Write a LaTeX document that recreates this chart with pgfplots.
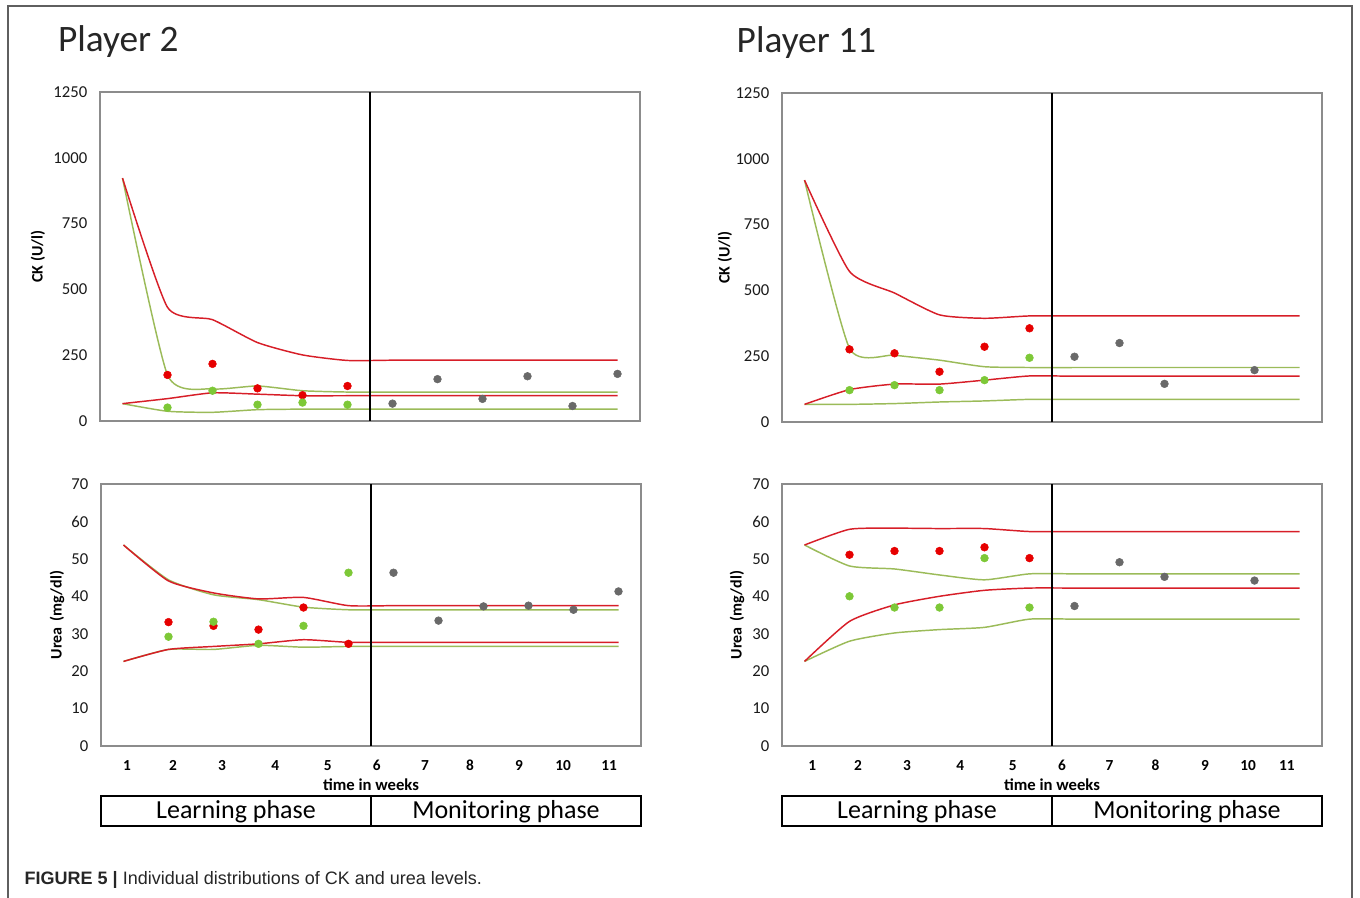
\documentclass[border=0pt]{standalone}
\usepackage{fontspec}
\setmainfont{Carlito}
\newfontfamily\capfont{Liberation Sans}
\usepackage{pgfplots}
\usepackage{pgfplotstable}
\pgfplotsset{compat=1.18}

\definecolor{redline}{RGB}{215,30,40}
\definecolor{greenline}{RGB}{155,187,89}
\definecolor{reddot}{RGB}{230,0,0}
\definecolor{greendot}{RGB}{125,200,55}
\definecolor{graydot}{RGB}{105,105,105}
\definecolor{framegray}{RGB}{140,140,140}
\definecolor{outergray}{RGB}{95,95,95}

% ---------- Player 2, CK ----------
\pgfplotstableread{
x ru gu rl gl
0 923 923 66 66
1 432 175 85 37
2 385 122 107 33
3 298 133 102 43
4 251 115 96 45
5 230 110 96 45
6 231 110 96 45
7 231 110 96 45
8 231 110 96 45
9 231 110 96 45
10 231 110 96 45
11 231 110 96 45
}\ckAlines
\pgfplotstableread{
x r g
1 175 51
2 217 115
3 124 62
4 98 70
5 133 62
}\ckApts
\pgfplotstableread{
x v
6 66
7 159
8 84
9 170
10 57
11 179
}\ckAgray

% ---------- Player 2, Urea ----------
\pgfplotstableread{
x ru gu rl gl
0 53.7 53.7 22.6 22.6
1 44.1 44.4 25.8 25.8
2 40.9 40.4 26.6 25.8
3 39.3 39.1 27.3 26.9
4 39.7 37.1 28.4 26.4
5 37.5 36.4 27.7 26.6
6 37.5 36.4 27.7 26.6
7 37.5 36.4 27.7 26.6
8 37.5 36.4 27.7 26.6
9 37.5 36.4 27.7 26.6
10 37.5 36.4 27.7 26.6
11 37.5 36.4 27.7 26.6
}\urAlines
\pgfplotstableread{
x r g
1 33.1 29.2
2 32.1 33.2
3 31.1 27.3
4 37.0 32.1
5 27.3 46.3
}\urApts
\pgfplotstableread{
x v
6 46.3
7 33.5
8 37.3
9 37.5
10 36.4
11 41.3
}\urAgray

% ---------- Player 11, CK ----------
\pgfplotstableread{
x ru gu rl gl
0 919 919 67 67
1 572 280 123 67
2 490 254 144 70
3 407 235 144 76
4 394 210 159 80
5 403 207 175 86
6 403 207 174 86
7 403 207 174 86
8 403 207 174 86
9 403 207 174 86
10 403 207 174 86
11 403 207 174 86
}\ckBlines
\pgfplotstableread{
x r g
1 276 121
2 261 140
3 191 121
4 286 159
5 356 244
}\ckBpts
\pgfplotstableread{
x v
6 248
7 300
8 145
10 197
}\ckBgray

% ---------- Player 11, Urea ----------
\pgfplotstableread{
x ru gu rl gl
0 53.7 53.7 22.6 22.6
1 57.9 48.1 33.3 28.0
2 58.2 47.3 37.7 30.2
3 58.1 45.7 40.0 31.1
4 58.1 44.4 41.6 31.7
5 57.3 46.0 42.2 33.9
6 57.3 46.0 42.2 33.9
7 57.3 46.0 42.2 33.9
8 57.3 46.0 42.2 33.9
9 57.3 46.0 42.2 33.9
10 57.3 46.0 42.2 33.9
11 57.3 46.0 42.2 33.9
}\urBlines
\pgfplotstableread{
x r g
1 51.1 40.0
2 52.1 37.0
3 52.1 37.0
4 53.1 50.2
5 50.2 37.0
}\urBpts
\pgfplotstableread{
x v
6 37.4
7 49.1
8 45.2
10 44.2
}\urBgray

\pgfplotsset{
 panel/.style={
   scale only axis, width=405pt,
   xmin=-0.5, xmax=11.5,
   axis line style={framegray, line width=0.8pt},
   major tick length=0pt,
   clip=false,
   yticklabel style={font=\fontsize{12.5}{14}\selectfont, xshift=-6pt, text=black!90},
   /pgf/number format/assume math mode=true,
   /pgf/number format/1000 sep={},
   ylabel style={font=\bfseries\fontsize{12}{14}\selectfont, at={(axis description cs:0,0.5)}, anchor=center},
 },
 ck/.style={panel, height=246.75pt, ymin=0, ymax=1250, ytick={0,250,500,750,1000,1250}, xtick=\empty, ylabel={CK (U/l)}},
 urea/.style={panel, height=196.5pt, ymin=0, ymax=70, ytick={0,10,20,30,40,50,60,70},
   xlabel={time in weeks},
   xlabel style={font=\bfseries\fontsize{12.5}{14}\selectfont, at={(axis description cs:0.5,0)}, anchor=center, yshift=-29pt},
   xticklabels={1,2,3,4,5,6,7,8,9,10,11},
   xticklabel style={font=\bfseries\fontsize{11.5}{13}\selectfont, anchor=base, yshift=-18.4pt},
   ylabel={Urea\,\ (mg/dl)}},
 rline/.style={redline, line width=1.1pt, smooth, tension=0.35, no markers},
 gline/.style={greenline, line width=1.1pt, smooth, tension=0.35, no markers},
 rdot/.style={only marks, mark=*, mark size=2.9pt, mark options={draw=reddot, fill=reddot}},
 gdot/.style={only marks, mark=*, mark size=2.9pt, mark options={draw=greendot, fill=greendot}},
 kdot/.style={only marks, mark=*, mark size=2.9pt, mark options={draw=graydot, fill=graydot}},
 vline/.style={black, line width=1.1pt, no markers},
}

\newcommand{\phasebox}{%
  \draw[black, line width=1pt] (axis cs:-0.5,-13.36) rectangle (axis cs:11.5,-21.37);
  \draw[black, line width=1pt] (axis cs:5.5,-13.36) -- (axis cs:5.5,-21.37);
  \node[font=\fontsize{19.5}{23}\selectfont] at (axis cs:2.5,-17.5) {Learning phase};
  \node[font=\fontsize{19.5}{23}\selectfont] at (axis cs:8.5,-17.5) {Monitoring phase};
}

\begin{document}
\begin{tikzpicture}
\useasboundingbox (0,0) rectangle (1020pt,672.75pt);
\draw[outergray, line width=1pt] (6pt,-2pt) -- (6pt,668.25pt) -- (1014pt,668.25pt) -- (1014pt,-2pt);

\node[anchor=base west, font=\fontsize{28}{34}\selectfont, text=black!85] at (40pt,633.75pt) {Player 2};
\node[anchor=base west, font=\fontsize{28}{34}\selectfont, text=black!85] at (549pt,633pt) {Player 11};

% Player 2 CK
\begin{axis}[ck, at={(75pt,357pt)}, anchor=south west, ylabel style={yshift=46.5pt}]
\addplot[gline] table[x=x,y=gu]{\ckAlines};
\addplot[gline] table[x=x,y=gl]{\ckAlines};
\addplot[rline] table[x=x,y=ru]{\ckAlines};
\addplot[rline] table[x=x,y=rl]{\ckAlines};
\addplot[vline] coordinates {(5.5,0) (5.5,1250)};
\addplot[rdot] table[x=x,y=r]{\ckApts};
\addplot[gdot] table[x=x,y=g]{\ckApts};
\addplot[kdot] table[x=x,y=v]{\ckAgray};
\end{axis}

% Player 2 Urea
\begin{axis}[urea, at={(75.75pt,113.25pt)}, anchor=south west, ylabel style={yshift=33pt},
  xtick={0.08,1.1,2.19,3.37,4.54,5.63,6.7,7.7,8.79,9.77,10.79}]
\addplot[gline] table[x=x,y=gu]{\urAlines};
\addplot[gline] table[x=x,y=gl]{\urAlines};
\addplot[rline] table[x=x,y=ru]{\urAlines};
\addplot[rline] table[x=x,y=rl]{\urAlines};
\addplot[vline] coordinates {(5.5,0) (5.5,70)};
\addplot[rdot] table[x=x,y=r]{\urApts};
\addplot[gdot] table[x=x,y=g]{\urApts};
\addplot[kdot] table[x=x,y=v]{\urAgray};
\phasebox
\end{axis}

% Player 11 CK
\begin{axis}[ck, at={(586.5pt,356.25pt)}, anchor=south west, ylabel style={yshift=42.75pt}]
\addplot[gline] table[x=x,y=gu]{\ckBlines};
\addplot[gline] table[x=x,y=gl]{\ckBlines};
\addplot[rline] table[x=x,y=ru]{\ckBlines};
\addplot[rline] table[x=x,y=rl]{\ckBlines};
\addplot[vline] coordinates {(5.5,0) (5.5,1250)};
\addplot[rdot] table[x=x,y=r]{\ckBpts};
\addplot[gdot] table[x=x,y=g]{\ckBpts};
\addplot[kdot] table[x=x,y=v]{\ckBgray};
\end{axis}

% Player 11 Urea
\begin{axis}[urea, at={(586.5pt,113.25pt)}, anchor=south west, ylabel style={yshift=33.75pt},
  xtick={0.17,1.19,2.28,3.46,4.63,5.72,6.78,7.8,8.9,9.86,10.72}]
\addplot[gline] table[x=x,y=gu]{\urBlines};
\addplot[gline] table[x=x,y=gl]{\urBlines};
\addplot[rline] table[x=x,y=ru]{\urBlines};
\addplot[rline] table[x=x,y=rl]{\urBlines};
\addplot[vline] coordinates {(5.5,0) (5.5,70)};
\addplot[rdot] table[x=x,y=r]{\urBpts};
\addplot[gdot] table[x=x,y=g]{\urBpts};
\addplot[kdot] table[x=x,y=v]{\urBgray};
\phasebox
\end{axis}

\node[anchor=base west, font=\capfont\fontsize{13.5}{16}\selectfont, text=black!85] at (15pt,9.75pt)
  {\textbf{FIGURE 5 |} Individual distributions of CK and urea levels.};
\end{tikzpicture}
\end{document}
